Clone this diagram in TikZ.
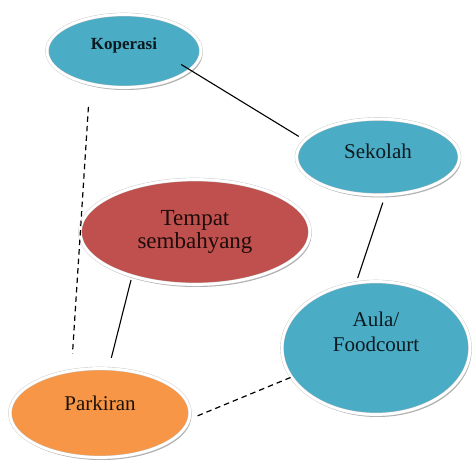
\documentclass[tikz,border=0pt]{standalone}
\usepackage{fontspec}
\setmainfont{Liberation Serif}
\usetikzlibrary{shapes.geometric,shadows,positioning}

\definecolor{skyblue}{HTML}{4BACC6}
\definecolor{brick}{HTML}{C0504D}
\definecolor{amber}{HTML}{F79646}

\begin{document}
\begin{tikzpicture}[x=1pt,y=-1pt,
		blob/.style={ellipse,draw=black!22,double=white,double distance=2.8pt,line width=0.4pt,
			inner sep=0pt,align=center,font=\fontsize{21}{25}\selectfont,
			drop shadow={shadow xshift=1.5pt,shadow yshift=-2.5pt,opacity=0.45,fill=black!70}},
		sky/.style={blob,fill=skyblue,text=black!85!skyblue},
		rose/.style={blob,fill=brick,text=black!85!brick},
		ambr/.style={blob,fill=amber,text=black!88!amber},
		link/.style={black,line width=1.1pt},
		loose/.style={black,line width=1.2pt,dash pattern=on 5.5pt off 4pt}
		]
		\useasboundingbox (0,0) rectangle (472,462);
		\node[sky,minimum width=154,minimum height=73,text depth=14pt,
			font=\fontsize{17}{18}\selectfont\bfseries] (kop) at (124,51) {Koperasi};
		\node[sky,minimum width=163,minimum height=76,text depth=11pt] (sek) at (378,157) {Sekolah};
		\node[rose,minimum width=230,minimum height=105,font=\fontsize{23}{23}\selectfont] (tem) at (195,232) {Tempat\\sembahyang};
		\node[sky,minimum width=188,minimum height=133,text depth=32pt] (aul) at (376,348) {Aula/\\Foodcourt};
		\node[ambr,minimum width=180,minimum height=89,text depth=19pt] (par) at (100,413) {Parkiran};

		% solid links
		\draw[link,shorten <=-10.5pt,shorten >=7pt] (kop.-16.5) -- (sek.167.5);
		\draw[link,shorten <=8pt,shorten >=5pt] (sek.-79) -- (aul.107.5);
		\draw[link,shorten <=4pt,shorten >=11pt] (tem.-145.5) -- (par.79.6);

		% dashed links
		\draw[loose,shorten <=23pt,shorten >=17pt] (kop.-136.2) -- (par.124.3);
		\draw[loose,shorten <=9pt,shorten >=-3pt] (par.-4.2) -- (aul.-161.8);
\end{tikzpicture}
\end{document}
